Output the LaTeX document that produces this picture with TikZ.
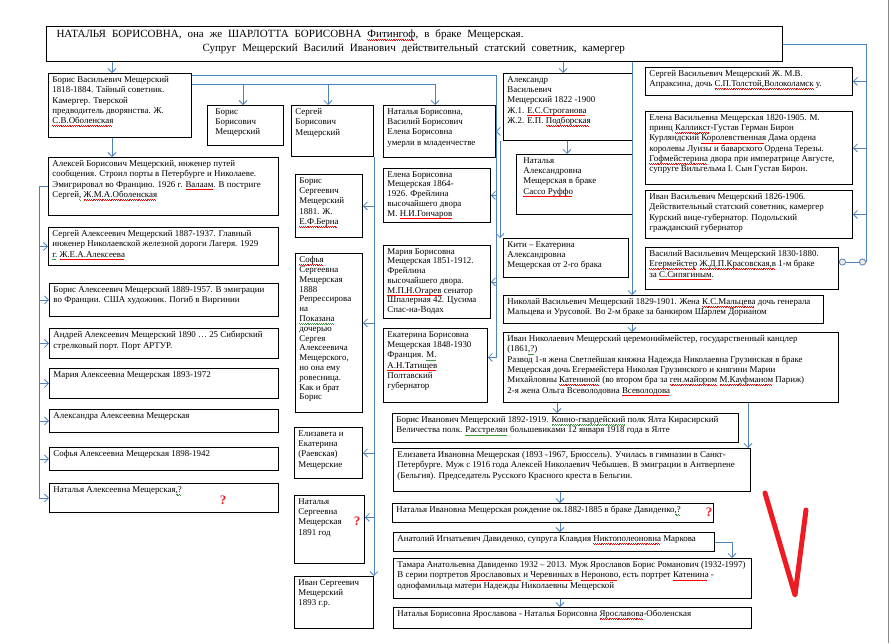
\documentclass[tikz,border=0pt]{standalone}
\usepackage{fontspec}
\setmainfont{Liberation Serif}
\usetikzlibrary{arrows.meta}
\definecolor{linkColor}{RGB}{79,129,189}
\definecolor{markRed}{RGB}{237,28,36}
\definecolor{spellGreen}{RGB}{60,150,60}
\newcommand{\boxfont}{\fontsize{8.9}{10.3}\selectfont}
\newcommand{\titlefont}{\fontsize{11}{14}\selectfont\spaceskip=6pt plus 1pt}
\newcommand{\famcell}[3]{\parbox[c][\dimexpr#2pt-6pt\relax][t]{\dimexpr#1pt-8pt\relax}{\raggedright\hyphenpenalty=10000\exhyphenpenalty=10000 #3}}
\newsavebox{\spellbox}
\newcommand{\wavy}[2]{\leavevmode\sbox{\spellbox}{#2}\rlap{\color{#1}\raisebox{-2.6pt}{\hbox to \wd\spellbox{\leaders\hbox{\raisebox{0.5pt}{\rule{0.9pt}{0.45pt}}\rule{0.9pt}{0.45pt}}\hfill}}}\usebox{\spellbox}}
\newcommand{\spell}[1]{\wavy{red}{#1}}
\newcommand{\gspell}[1]{\wavy{spellGreen}{#1}}

\begin{document}
\begin{tikzpicture}[x=1pt, y=-1pt,
    person/.style={draw, line width=0.9pt, anchor=north west, inner xsep=4pt, inner ysep=3pt, font=\boxfont},
    headbox/.style={draw, line width=1pt, anchor=north west, inner xsep=4pt, inner ysep=3pt, font=\titlefont},
    conn/.style={draw=linkColor, line width=0.8pt},
    arr/.style={conn, -{Straight Barb[length=4pt,width=8pt]}},
    dots/.style={conn, {Circle[length=7pt,fill=black!8]}-{Circle[length=7pt,fill=black!8]}},
    qmark/.style={text=markRed, font=\fontsize{13}{13}\selectfont\bfseries, inner sep=0pt}
  ]
  \useasboundingbox (0,0) rectangle (891,643);
  \draw[black!45, line width=0.6pt] (888,0) -- (888,643);

  % parents
  \node[headbox] (title) at (46,26) {\famcell{736}{35}{\hspace*{6pt}НАТАЛЬЯ БОРИСОВНА, она  же  ШАРЛОТТА  БОРИСОВНА  \spell{Фитингоф},  в браке  Мещерская.\\
    \hspace*{152pt}Супруг  Мещерский  Василий Иванович  действительный  статский  советник, камергер}};

  % Boris line
  \node[person] (borisv) at (48,73) {\famcell{143}{64}{Борис  Васильевич Мещерский\\ 1818-1884. Тайный советник.\\ Камергер. Тверской\\ предводитель дворянства. Ж.\\ \spell{С.В.Оболенская}}};
  \node[person] (borisb) at (207,105) {\famcell{76}{40}{\hspace*{4pt}Борис\\ \hspace*{4pt}Борисович\\ \hspace*{4pt}Мещерский}};
  \node[person] (sergeyb) at (291,105) {\famcell{82}{51}{Сергей\\ Борисович\\ Мещерский}};
  \node[person] (natgroup) at (383,105) {\famcell{112}{52}{Наталья Борисовна,\\ Василий Борисович\\ Елена Борисовна\\ умерли в  младенчестве}};
  \node[person] (elenab) at (383,168) {\famcell{107}{54}{\fontsize{8.9}{9.7}\selectfont Елена Борисовна\\ Мещерская  1864-\\ 1926.  Фрейлина\\ высочайшего двора\\ М. \spell{Н.И.Гончаров}}};
  \node[person] (mariab) at (383,245) {\famcell{107}{73}{\fontsize{8.9}{9.7}\selectfont Мария  Борисовна\\ Мещерская 1851-1912.\\ Фрейлина\\ высочайшего двора.\\ \spell{М.П.Н.Огарев} сенатор\\ Шпалерная 42. Цусима\\ Спас-на-Водах}};
  \node[person] (ekaterinab) at (383,328) {\famcell{104}{74}{Екатерина Борисовна\\ Мещерская 1848-1930\\ Франция.  \gspell{М.}\\ \spell{А.Н.Татищев}\\ Полтавский\\ губернатор}};

  % Aleksey and children
  \node[person] (aleksey) at (48,157) {\famcell{230}{58}{Алексей Борисович  Мещерский, инженер путей\\ сообщения. Строил порты в  Петербурге и Николаеве.\\ Эмигрировал во Францию. 1926 г. \spell{Валаам}. В постриге\\ Сергей\gspell{,} \spell{Ж.М.А.Оболенская}}};
  \node[person] (sergeya) at (48,227) {\famcell{230}{38}{Сергей  Алексеевич  Мещерский 1887-1937. Главный\\ инженер  Николаевской  железной дороги Лагеря. 1929\\ \gspell{г.} \spell{Ж.Е.А.Алексеева}}};
  \node[person] (borisa) at (49,283) {\famcell{229}{33}{Борис  Алексеевич  Мещерский 1889-1957.  В эмиграции\\ во Франции. США  художник. Погиб в Виргинии}};
  \node[person] (andrey) at (49,328) {\famcell{229}{30}{Андрей  Алексеевич Мещерский  1890 … 25  Сибирский\\ стрелковый порт. Порт   АРТУР.}};
  \node[person] (mariaa) at (49,368) {\famcell{229}{30}{Мария   Алексеевна  Мещерская  1893-1972}};
  \node[person] (alexandra) at (49,409) {\famcell{229}{23}{Александра   Алексеевна Мещерская}};
  \node[person] (sofiaa) at (49,447) {\famcell{229}{23}{Софья  Алексеевна  Мещерская  1898-1942}};
  \node[person] (nataliaa) at (49,483) {\famcell{229}{29}{Наталья  Алексеевна   Мещерская\gspell{,?}}};
  \node[qmark] (qa) at (223,500) {?};

  % Sergey Borisovich's children
  \node[person] (borissr) at (295,174) {\famcell{67}{63}{Борис\\ Сергеевич\\ Мещерский\\ 1881. Ж.\\ \spell{Е.Ф.Берна}}};
  \node[person] (sofias) at (295,253) {\famcell{67}{159}{\fontsize{8.9}{9.8}\selectfont \spell{Софья}\\ Сергеевна\\ Мещерская\\ 1888\\ Репрессирова\\ на\\ \gspell{Показана}\\ дочерью\\ Сергея\\ Алексеевича\\ Мещерского,\\ но  она  ему\\ ровесница.\\ Как и брат\\ Борис}};
  \node[person] (elizs) at (294,427) {\famcell{68}{51}{Елизавета  и\\ Екатерина\\ (Раевская)\\ Мещерские}};
  \node[person] (natalias) at (294,495) {\famcell{70}{68}{Наталья\\ Сергеевна\\ Мещерская\\ 1891  год}};
  \node[qmark] (qs) at (357,521) {?};
  \node[person] (ivans) at (294,576) {\famcell{79}{52}{Иван Сергеевич\\ Мещерский\\ 1893 г.р.}};

  % Alexander line
  \node[person] (alex) at (503,73) {\famcell{129}{67}{Александр\\ Васильевич\\ Мещерский 1822 -1900\\ Ж.1. \spell{Е.С.Строганова}\\ Ж.2. Е.П. \spell{Подборская}}};
  \node[person] (nataliaal) at (516,154) {\famcell{116}{60}{\hspace*{3pt}Наталья\\ \hspace*{3pt}Александровна\\ \hspace*{3pt}Мещерская  в браке\\ \hspace*{3pt}\spell{Сассо Руффо}}};
  \node[person] (kiti) at (503,238) {\famcell{125}{39}{Кити – Екатерина\\ Александровна\\ Мещерская  от 2-го брака}};

  % right column
  \node[person] (sergeyv) at (645,67) {\famcell{207}{28}{Сергей Васильевич Мещерский Ж. М.В.\\ Апраксина, дочь \spell{С.П.Толстой,Волоколамск} у.}};
  \node[person] (elenav) at (645,111) {\famcell{207}{73}{Елена Васильевна Мещерская 1820-1905. М.\\ принц  \spell{Калликст}-Густав Герман Бирон\\ Курляндский \spell{Королевственная}   Дама  ордена\\ королевы  Луизы  и баварского  Ордена Терезы.\\ \spell{Гофмейстерина}  двора при  императрице  Августе,\\ супруге Вильгельма I. Сын Густав  Бирон.}};
  \node[person] (ivanv) at (645,190) {\famcell{207}{48}{Иван  Васильевич   Мещерский  1826-1906.\\ Действительный статский советник, камергер\\ Курский вице-губернатор. Подольский\\ гражданский  губернатор}};
  \node[person] (vasilyv) at (645,247) {\famcell{193}{42}{Василий Васильевич  Мещерский 1830-1880.\\ \spell{Егермейстер}  \spell{Ж.Д.П.Красовская,в}  1-м браке\\ за \spell{С.Сипягиным}.}};

  % Nikolai line
  \node[person] (nikolai) at (503,295) {\famcell{320}{28}{Николай  Васильевич  Мещерский  1829-1901. Жена \spell{К.С.Мальцева} дочь генерала\\ Мальцева и Урусовой. Во 2-м браке за  банкиром  Шарлем Дорианом}};
  \node[person] (ivann) at (503,332) {\famcell{335}{70}{Иван Николаевич  Мещерский  церемониймейстер, государственный канцлер\\ (1861\gspell{,?})\\ Развод 1-я жена  Светлейшая  княжна  Надежда Николаевна  Грузинская в браке\\ Мещерская  дочь  Егермейстера Николая  Грузинского и княгини Марии\\ Михайловны \spell{Катениной} (во втором бра за \spell{ген.майором} \spell{М.Кауфманом} Париж)\\ 2-я жена Ольга Всеволодовна  \spell{Всеволодова}}};
  \node[person] (borisi) at (392,413) {\famcell{346}{29}{Борис Иванович  Мещерский 1892-1919. \gspell{Конно-гвардейский}  полк  Ялта  Кирасирский\\ Величества  полк.  \gspell{Расстрелян} большевиками 12 января  1918  года в  Ялте}};
  \node[person] (elizi) at (393,448) {\famcell{357}{43}{Елизавета  Ивановна  Мещерская  (1893 -1967, Брюссель). Училась в гимназии в  Санкт-\\ Петербурге. Муж с 1916 года Алексей Николаевич  Чебышев. В эмиграции в Антверпене\\ (Бельгия).  Председатель Русского   Красного креста  в Бельгии.}};
  \node[person] (nataliai) at (392,503) {\famcell{321}{19}{Наталья  Ивановна   Мещерская   рождение  ок.1882-1885  в браке   Давиденко\gspell{,?}}};
  \node[qmark] (qi) at (709,512) {?};
  \node[person] (anatoly) at (393,532) {\famcell{321}{19}{Анатолий Игнатьевич Давиденко, супруга  Клавдия \spell{Никтополеоновна}  Маркова}};
  \node[person] (tamara) at (393,558) {\famcell{358}{40}{Тамара Анатольевна Давиденко 1932 – 2013. Муж Ярославов  Борис  Романович (1932-1997)\\ В серии портретов  \spell{Ярославовых}  и \spell{Черевиных}  в \spell{Нероново},  есть портрет \spell{Катенина}  -\\ однофамильца матери  Надежды  Николаевны  Мещерской}};
  \node[person] (natyar) at (393,607) {\famcell{358}{21}{Наталья Борисовна Ярославова -  Наталья  Борисовна  \spell{Ярославова}-Оболенская}};

  % connectors from the parents
  \draw[arr] (112,0 |- title.south) -- (112,0 |- borisv.north);
  \draw[arr] (563,0 |- title.south) -- (563,0 |- alex.north);
  \draw[arr] (632,0 |- title.south) -- (632,0 |- nikolai.north);
  \coordinate (rtop) at (866,0 |- title.east);
  \coordinate (rbot) at (866,262);
  \draw[conn] (title.east) -- (rtop) -- (rbot);
  \foreach \v in {sergeyv,elenav,ivanv}
    \draw[arr] (rtop |- \v.east) -- (\v.east);
  \draw[dots] (rbot) -- (rbot -| vasilyv.east);

  % Boris's children
  \coordinate (bA) at (496,75);
  \coordinate (bB) at (435,84);
  \draw[arr] (bA -| borisv.east) -- (bA) |- ([yshift=8pt]ekaterinab.east);
  \foreach \v in {natgroup,elenab,mariab}
    \draw[arr] (bA |- \v.east) -- (\v.east);
  \draw[arr] (bB -| borisv.east) -- (bB) -- (bB |- natgroup.north);
  \draw[arr] (243,0 |- bB) -- (243,0 |- borisb.north);
  \draw[arr] (328,0 |- bB) -- (328,0 |- sergeyb.north);
  \draw[arr] (112,0 |- borisv.south) -- (112,0 |- aleksey.north);

  % Aleksey's children
  \coordinate (lt) at (39,0 |- aleksey.west);
  \draw[arr] (aleksey.west) -- (lt) |- (nataliaa.west);
  \foreach \v in {sergeya,borisa,andrey,mariaa,alexandra,sofiaa}
    \draw[arr] (lt |- \v.west) -- (\v.west);

  % Sergey's children
  \draw[arr] (sergeyb.south east) -- (ivans.north east);
  \draw[arr] (sergeyb.south east |- borissr.east) -- (borissr.east);
  \draw[arr] (sergeyb.south east |- sofias.east) ++(0,-10) -- ([yshift=10pt]sofias.east);
  \draw[arr] (sergeyb.south east |- elizs.east) -- (elizs.east);
  \draw[arr] (sergeyb.south east |- natalias.east) ++(0,-12) -- ([yshift=12pt]natalias.east);

  % Alexander's children
  \draw[arr] (567,0 |- alex.south) -- (567,0 |- nataliaal.north);
  \draw[arr] ([xshift=-3pt]alex.south west) -- ([xshift=-3pt]kiti.north west);

  % Nikolai's line
  \draw[arr] (632,0 |- nikolai.south) -- (632,0 |- ivann.north);
  \draw[arr] (557,0 |- ivann.south) -- (557,0 |- borisi.north);
  \draw[arr] (748,0 |- ivann.south) -- (748,0 |- elizi.north);
  \draw[arr] (560,0 |- elizi.south) -- (560,0 |- nataliai.north);
  \draw[arr] (560,0 |- nataliai.south) -- (560,0 |- anatoly.north);
  \draw[arr] (anatoly.east) -| (732,0 |- tamara.north);
  \draw[arr] (560,0 |- tamara.south) -- (560,0 |- natyar.north);

  % red tick
  \draw[markRed, line width=5pt, line cap=round, line join=round] (765,493) -- (795,595) -- (806,510);
\end{tikzpicture}
\end{document}
